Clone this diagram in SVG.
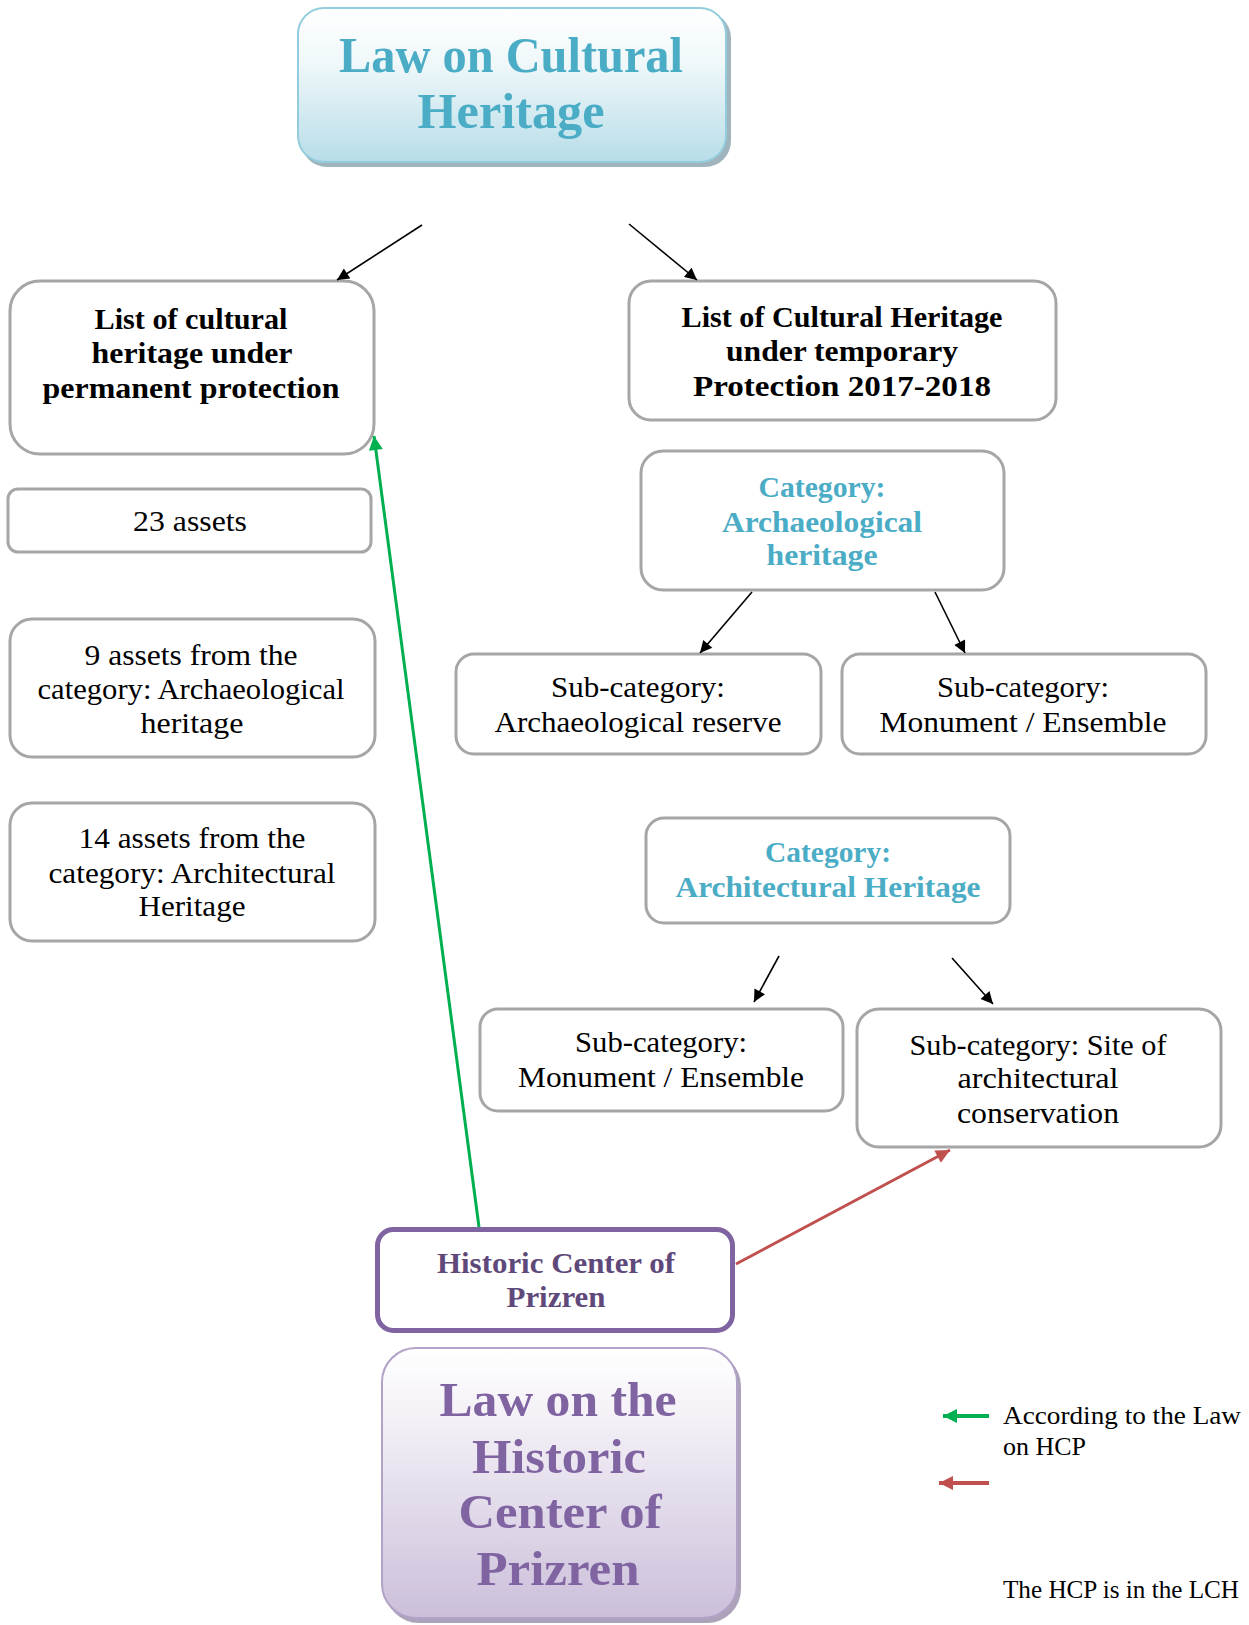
<svg xmlns="http://www.w3.org/2000/svg" width="1249" height="1625" viewBox="0 0 1249 1625">
<style>
.box{fill:#fff;stroke:#A6A6A6;stroke-width:3}
.t{font-family:"Liberation Serif",serif;font-size:29.5px;text-anchor:middle;fill:#000}
.b{font-weight:bold;font-size:29px}
.teal{fill:#4BACC6}
.lg{font-family:"Liberation Serif",serif;font-size:26px;fill:#000}
.arr{stroke:#000;stroke-width:1.6;fill:none;marker-end:url(#ah)}
</style>
<defs>
<linearGradient id="gTeal" x1="0" y1="0" x2="0" y2="1">
<stop offset="0" stop-color="#FFFFFF"/><stop offset="0.35" stop-color="#F0F8FA"/><stop offset="1" stop-color="#B7DDE8"/>
</linearGradient>
<linearGradient id="gPurp" x1="0" y1="0" x2="0" y2="1">
<stop offset="0" stop-color="#FFFFFF"/><stop offset="0.25" stop-color="#F4F1F7"/><stop offset="1" stop-color="#CBBFDA"/>
</linearGradient>
<marker id="ah" viewBox="0 0 10 10" refX="10" refY="5" markerWidth="16" markerHeight="12" markerUnits="userSpaceOnUse" orient="auto"><path d="M0,0 L10,5 L0,10 z" fill="#000"/></marker>
<marker id="ahG" viewBox="0 0 10 10" refX="10" refY="5" markerWidth="18" markerHeight="14" markerUnits="userSpaceOnUse" orient="auto"><path d="M0,0 L10,5 L0,10 z" fill="#00B050"/></marker>
<marker id="ahR" viewBox="0 0 10 10" refX="10" refY="5" markerWidth="18" markerHeight="14" markerUnits="userSpaceOnUse" orient="auto"><path d="M0,0 L10,5 L0,10 z" fill="#C0504D"/></marker>
</defs>
<rect width="1249" height="1625" fill="#fff"/>

<g id="law-cultural-heritage">
<rect x="301" y="12" width="430" height="155" rx="26" fill="#8FA7B1" opacity="0.85"/>
<rect x="298" y="8" width="428" height="154" rx="26" fill="url(#gTeal)" stroke="#93CDDD" stroke-width="2"/>
<text class="t b teal" x="511" y="72" style="font-size:50px" textLength="344" lengthAdjust="spacingAndGlyphs">Law on Cultural</text>
<text class="t b teal" x="511" y="128" style="font-size:50px" textLength="187" lengthAdjust="spacingAndGlyphs">Heritage</text>
</g>

<g id="list-permanent">
<rect class="box" x="10" y="281" width="364" height="173" rx="30"/>
<text class="t b" x="191" y="329" textLength="193" lengthAdjust="spacingAndGlyphs">List of cultural</text>
<text class="t b" x="192" y="363" textLength="201" lengthAdjust="spacingAndGlyphs">heritage under</text>
<text class="t b" x="191" y="398" textLength="297" lengthAdjust="spacingAndGlyphs">permanent protection</text>
</g>

<g id="list-temporary">
<rect class="box" x="629" y="281" width="427" height="139" rx="22"/>
<text class="t b" x="842" y="327" textLength="321" lengthAdjust="spacingAndGlyphs">List of Cultural Heritage</text>
<text class="t b" x="842" y="361" textLength="232" lengthAdjust="spacingAndGlyphs">under temporary</text>
<text class="t b" x="842" y="396" textLength="298" lengthAdjust="spacingAndGlyphs">Protection 2017-2018</text>
</g>

<g id="assets-23">
<rect class="box" x="8" y="489" width="363" height="63" rx="10"/>
<text class="t" x="190" y="531" textLength="114" lengthAdjust="spacingAndGlyphs">23 assets</text>
</g>

<g id="assets-9">
<rect class="box" x="10" y="619" width="365" height="138" rx="22"/>
<text class="t" x="191" y="665" textLength="213" lengthAdjust="spacingAndGlyphs">9 assets from the</text>
<text class="t" x="191" y="699" textLength="307" lengthAdjust="spacingAndGlyphs">category: Archaeological</text>
<text class="t" x="192" y="733" textLength="103" lengthAdjust="spacingAndGlyphs">heritage</text>
</g>

<g id="assets-14">
<rect class="box" x="10" y="803" width="365" height="138" rx="22"/>
<text class="t" x="192" y="848" textLength="227" lengthAdjust="spacingAndGlyphs">14 assets from the</text>
<text class="t" x="192" y="883" textLength="287" lengthAdjust="spacingAndGlyphs">category: Architectural</text>
<text class="t" x="192" y="916" textLength="107" lengthAdjust="spacingAndGlyphs">Heritage</text>
</g>

<g id="cat-archaeological">
<rect class="box" x="641" y="451" width="363" height="139" rx="22"/>
<text class="t b teal" x="822" y="497" textLength="127" lengthAdjust="spacingAndGlyphs">Category:</text>
<text class="t b teal" x="822" y="532" textLength="200" lengthAdjust="spacingAndGlyphs">Archaeological</text>
<text class="t b teal" x="822" y="565" textLength="111" lengthAdjust="spacingAndGlyphs">heritage</text>
</g>

<g id="sub-arch-reserve">
<rect class="box" x="456" y="654" width="365" height="100" rx="18"/>
<text class="t" x="638" y="697" textLength="174" lengthAdjust="spacingAndGlyphs">Sub-category:</text>
<text class="t" x="638" y="732" textLength="287" lengthAdjust="spacingAndGlyphs">Archaeological reserve</text>
</g>

<g id="sub-monument-1">
<rect class="box" x="842" y="654" width="364" height="100" rx="18"/>
<text class="t" x="1023" y="697" textLength="172" lengthAdjust="spacingAndGlyphs">Sub-category:</text>
<text class="t" x="1023" y="732" textLength="287" lengthAdjust="spacingAndGlyphs">Monument / Ensemble</text>
</g>

<g id="cat-architectural">
<rect class="box" x="646" y="818" width="364" height="105" rx="18"/>
<text class="t b teal" x="828" y="862" textLength="126" lengthAdjust="spacingAndGlyphs">Category:</text>
<text class="t b teal" x="828" y="897" textLength="305" lengthAdjust="spacingAndGlyphs">Architectural Heritage</text>
</g>

<g id="sub-monument-2">
<rect class="box" x="480" y="1009" width="363" height="102" rx="18"/>
<text class="t" x="661" y="1052" textLength="172" lengthAdjust="spacingAndGlyphs">Sub-category:</text>
<text class="t" x="661" y="1087" textLength="286" lengthAdjust="spacingAndGlyphs">Monument / Ensemble</text>
</g>

<g id="sub-site">
<rect class="box" x="857" y="1009" width="364" height="138" rx="22"/>
<text class="t" x="1038" y="1055" textLength="257" lengthAdjust="spacingAndGlyphs">Sub-category: Site of</text>
<text class="t" x="1038" y="1088" textLength="161" lengthAdjust="spacingAndGlyphs">architectural</text>
<text class="t" x="1038" y="1123" textLength="162" lengthAdjust="spacingAndGlyphs">conservation</text>
</g>

<g id="hcp">
<rect x="377.5" y="1229.5" width="355" height="101" rx="16" fill="#fff" stroke="#8064A2" stroke-width="5"/>
<text class="t b" x="556" y="1273" style="fill:#5F497A" textLength="238" lengthAdjust="spacingAndGlyphs">Historic Center of</text>
<text class="t b" x="556" y="1307" style="fill:#5F497A" textLength="99" lengthAdjust="spacingAndGlyphs">Prizren</text>
</g>

<g id="law-hcp">
<rect x="385" y="1352" width="356" height="271" rx="34" fill="#9E93AE" opacity="0.85"/>
<rect x="382" y="1348" width="355" height="270" rx="34" fill="url(#gPurp)" stroke="#B2A2C7" stroke-width="2"/>
<text class="t b" x="558" y="1416" style="font-size:48px;fill:#8064A2" textLength="237" lengthAdjust="spacingAndGlyphs">Law on the</text>
<text class="t b" x="559" y="1473" style="font-size:48px;fill:#8064A2" textLength="174" lengthAdjust="spacingAndGlyphs">Historic</text>
<text class="t b" x="560" y="1528" style="font-size:48px;fill:#8064A2" textLength="203" lengthAdjust="spacingAndGlyphs">Center of</text>
<text class="t b" x="558" y="1585" style="font-size:48px;fill:#8064A2" textLength="163" lengthAdjust="spacingAndGlyphs">Prizren</text>
</g>

<g id="connectors">
<path class="arr" d="M422,225 L337,280"/>
<path class="arr" d="M629,224 L697,280"/>
<path class="arr" d="M752,592 L700,653"/>
<path class="arr" d="M935,592 L965,653"/>
<path class="arr" d="M779,956 L754,1002"/>
<path class="arr" d="M952,958 L993,1004"/>
<path d="M479,1227 L374,436" stroke="#00B050" stroke-width="3" fill="none" marker-end="url(#ahG)"/>
<path d="M736,1264 L950,1150" stroke="#C0504D" stroke-width="3" fill="none" marker-end="url(#ahR)"/>
</g>

<g id="legend">
<path d="M989,1416 L943,1416" stroke="#00B050" stroke-width="4" fill="none" marker-end="url(#ahG)"/>
<path d="M989,1483 L939,1483" stroke="#C0504D" stroke-width="4" fill="none" marker-end="url(#ahR)"/>
<text class="lg" x="1003" y="1424" textLength="238" lengthAdjust="spacingAndGlyphs">According to the Law</text>
<text class="lg" x="1003" y="1455">on HCP</text>
<text class="lg" x="1003" y="1598" style="font-size:25px" textLength="236" lengthAdjust="spacingAndGlyphs">The HCP is in the LCH</text>
</g>
</svg>
